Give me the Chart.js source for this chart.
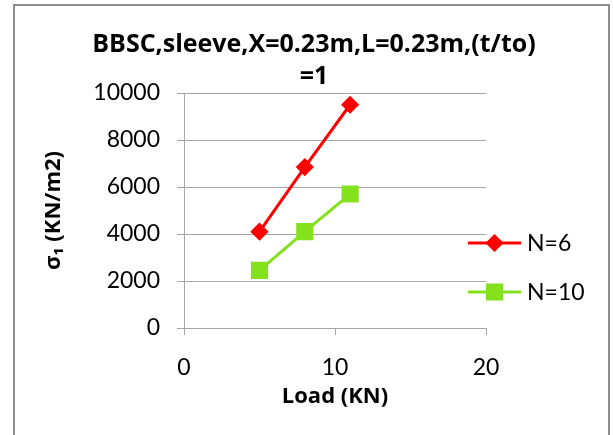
<!DOCTYPE html>
<html>
<head>
<meta charset="utf-8">
<title>BBSC sleeve</title>
<script src="https://cdn.jsdelivr.net/npm/chart.js@4.4.1/dist/chart.umd.min.js"></script>
<style>
  html, body { margin: 0; padding: 0; background: #fff; }
  #wrap { width: 613px; height: 435px; position: relative; }
</style>
</head>
<body>
<div id="wrap"><canvas id="chart" width="613" height="435"></canvas></div>
<script>
// Load values (KN) and sigma1 readings (KN/m2) per series
const loads = [5, 8, 11];
const sigmaN6 = [4100, 6850, 9500];
const sigmaN10 = [2450, 4100, 5700];
const seriesNames = ['N=6', 'N=10'];
const titleLines = ['BBSC,sleeve,X=0.23m,L=0.23m,(t/to)', '=1'];

const GRID = '#a6a6a6';
const FONT = 'Lato, "Open Sans", sans-serif';
const HEAD = '"Open Sans", Lato, sans-serif';

function points(ys) {
  return loads.map((x, i) => ({ x: x, y: ys[i] }));
}

// Outer frame round the whole chart
const framePlugin = {
  id: 'frame',
  beforeDraw(chart) {
    const ctx = chart.ctx;
    ctx.save();
    ctx.fillStyle = '#fff';
    ctx.fillRect(0, 0, chart.width, chart.height);
    ctx.strokeStyle = '#8e8e8e';
    ctx.lineWidth = 2;
    ctx.strokeRect(14, 5, 595, 440);
    ctx.restore();
  }
};

// Legend on the right: line sample with the series marker in the middle
const sideLegend = {
  id: 'sideLegend',
  afterDraw(chart) {
    const ctx = chart.ctx;
    const x0 = 468, x1 = 521;
    const rows = [243, 292];
    ctx.save();
    chart.data.datasets.forEach((ds, i) => {
      const y = rows[i];
      ctx.strokeStyle = ds.borderColor;
      ctx.lineWidth = ds.borderWidth;
      ctx.beginPath();
      ctx.moveTo(x0, y);
      ctx.lineTo(x1, y);
      ctx.stroke();
      ctx.fillStyle = ds.pointBackgroundColor;
      ctx.strokeStyle = ds.pointBorderColor;
      Chart.helpers.drawPoint(ctx, {
        pointStyle: ds.pointStyle,
        radius: ds.pointRadius,
        rotation: 0,
        borderWidth: 1
      }, (x0 + x1) / 2, y);
      ctx.fillStyle = '#000';
      ctx.font = '23px ' + FONT;
      ctx.textAlign = 'left';
      ctx.textBaseline = 'middle';
      ctx.fillText(ds.label, 527, y + 1);
    });
    ctx.restore();
  }
};

new Chart(document.getElementById('chart'), {
  type: 'scatter',
  data: {
    datasets: [
      {
        label: seriesNames[0],
        data: points(sigmaN6),
        showLine: true,
        borderColor: '#ff0000',
        borderWidth: 3,
        pointStyle: 'rectRot',
        pointRadius: 7,
        pointBackgroundColor: '#ff0000',
        pointBorderColor: '#ff0000'
      },
      {
        label: seriesNames[1],
        data: points(sigmaN10),
        showLine: true,
        borderColor: '#84e21c',
        borderWidth: 3,
        pointStyle: 'rect',
        pointRadius: 10,
        pointBackgroundColor: '#84e21c',
        pointBorderColor: '#84e21c'
      }
    ]
  },
  options: {
    responsive: false,
    animation: false,
    layout: { padding: { left: 15, right: 0, top: 0, bottom: 0 } },
    plugins: {
      legend: { display: false },
      tooltip: { enabled: false },
      title: {
        display: true,
        text: titleLines,
        color: '#000',
        font: { family: HEAD, size: 25, weight: 'bold', lineHeight: '32px' },
        padding: { top: 29, bottom: 0 }
      }
    },
    scales: {
      x: {
        type: 'linear',
        min: 0,
        max: 20,
        afterFit(scale) { scale.height = 107; },
        ticks: {
          stepSize: 10,
          color: '#000',
          font: { family: FONT, size: 23 },
          padding: 19,
          callback: v => String(v)
        },
        grid: { drawOnChartArea: false, drawTicks: true, tickLength: 7, color: GRID },
        border: { color: GRID },
        title: {
          display: true,
          text: 'Load (KN)',
          color: '#000',
          font: { family: HEAD, size: 22, weight: 'bold' },
          padding: { top: 0, bottom: 25 }
        }
      },
      y: {
        min: 0,
        max: 10000,
        afterFit(scale) { scale.width = 169; },
        ticks: {
          stepSize: 2000,
          color: '#000',
          font: { family: FONT, size: 23 },
          padding: 17,
          callback: v => String(v)
        },
        grid: { color: GRID, tickLength: 7 },
        border: { color: GRID },
        title: {
          display: true,
          text: 'σ₁ (KN/m2)',
          color: '#000',
          font: { family: HEAD, size: 22, weight: 'bold' },
          padding: { top: 26, bottom: 0 }
        }
      },
      // empty axis on the right keeps room for the legend
      side: {
        type: 'linear',
        position: 'right',
        afterFit(scale) { scale.width = 127; },
        ticks: { display: false },
        grid: { display: false },
        border: { display: false }
      }
    }
  },
  plugins: [framePlugin, sideLegend]
});
</script>
</body>
</html>
